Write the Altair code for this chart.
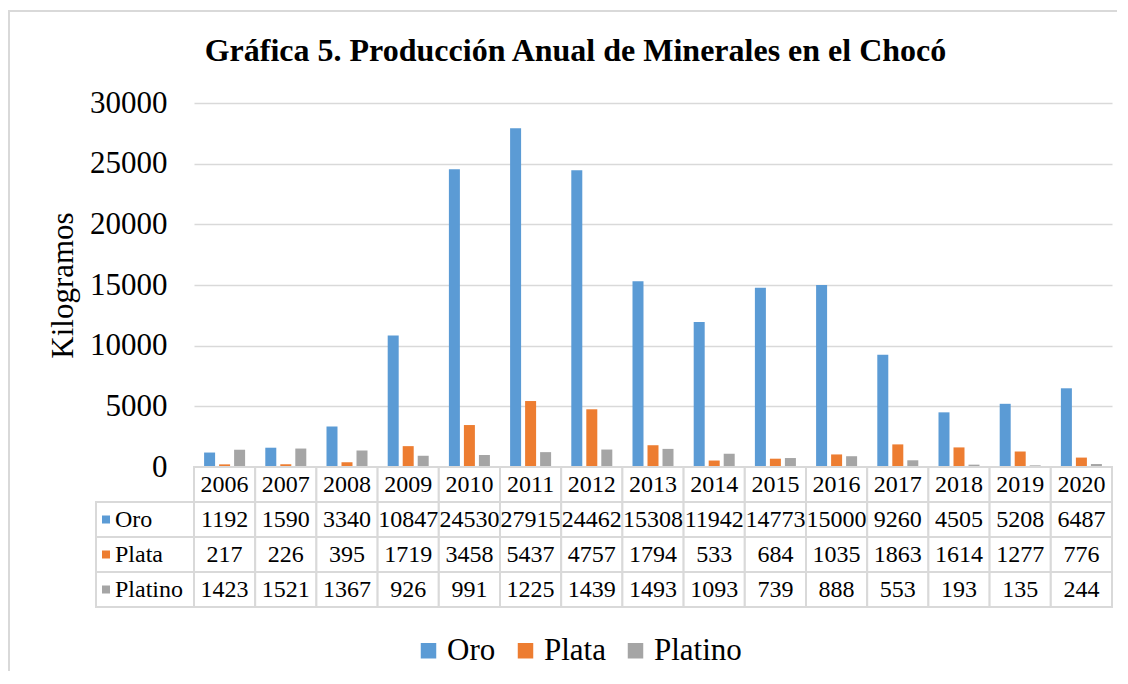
import altair as alt
import pandas as pd

years = [str(y) for y in range(2006, 2021)]
series = ["Oro", "Plata", "Platino"]
oro = [1192, 1590, 3340, 10847, 24530, 27915, 24462, 15308, 11942, 14773, 15000, 9260, 4505, 5208, 6487]
plata = [217, 226, 395, 1719, 3458, 5437, 4757, 1794, 533, 684, 1035, 1863, 1614, 1277, 776]
platino = [1423, 1521, 1367, 926, 991, 1225, 1439, 1493, 1093, 739, 888, 553, 193, 135, 244]
colors = ["#5B9BD5", "#ED7D31", "#A5A5A5"]
y_ticks = [0, 5000, 10000, 15000, 20000, 25000, 30000]

FONT = "Liberation Serif"
GRID = "#d9d9d9"

values = {"Oro": oro, "Plata": plata, "Platino": platino}
bars_df = pd.DataFrame(
    [{"year": y, "series": s, "value": values[s][i]} for s in series for i, y in enumerate(years)]
)

row_order = ["Año"] + series
table_rows = []
for i, y in enumerate(years):
    table_rows.append({"year": y, "row": "Año", "txt": y})
    for s in series:
        table_rows.append({"year": y, "row": s, "txt": str(values[s][i])})
table_df = pd.DataFrame(table_rows)
head_df = pd.DataFrame({"row": series, "series": series})
frame_top_df = pd.DataFrame({"edge": ["top"]})
frame_left_df = pd.DataFrame({"edge": ["left"]})

color_scale = alt.Scale(domain=series, range=colors)

bars = alt.Chart(bars_df).mark_bar().encode(
    x=alt.X("year:N", sort=years, axis=None,
            scale=alt.Scale(paddingInner=0.33, paddingOuter=0.165)),
    xOffset=alt.XOffset("series:N", sort=series,
                        scale=alt.Scale(paddingInner=0.267, paddingOuter=0)),
    y=alt.Y("value:Q", scale=alt.Scale(domain=[0, 30000], nice=False),
            axis=alt.Axis(values=y_ticks, format="d", title="Kilogramos", titleFontSize=31,
                          titleFont=FONT, titleFontWeight="normal", titleColor="black",
                          labelFont=FONT, labelFontSize=31, labelColor="black",
                          labelPadding=27, titlePadding=10, domain=False, ticks=False,
                          gridColor=GRID, gridWidth=1.5)),
    color=alt.Color("series:N", scale=color_scale, sort=series,
                    legend=alt.Legend(title=None, orient="none", direction="horizontal",
                                      legendX=219, legendY=532, symbolType="square",
                                      symbolSize=240, symbolStrokeWidth=0,
                                      labelFont=FONT, labelFontSize=31, labelColor="black",
                                      labelOffset=3, columnPadding=14)),
)

# chart-area frame (top and left edges only, as in the reference)
frame_top = alt.Chart(frame_top_df).mark_rect(fill=GRID, strokeWidth=0).encode(
    x=alt.value(-186), x2=alt.value(923), y=alt.value(-93), y2=alt.value(-91))
frame_left = alt.Chart(frame_left_df).mark_rect(fill=GRID, strokeWidth=0).encode(
    x=alt.value(-186), x2=alt.value(-184), y=alt.value(-93), y2=alt.value(568))

top = alt.layer(bars, frame_top, frame_left).properties(width=918, height=364)

tx = alt.X("year:N", sort=years, axis=None, scale=alt.Scale(paddingInner=0, paddingOuter=0))
ty = alt.Y("row:N", sort=row_order, axis=None, scale=alt.Scale(domain=row_order, paddingInner=0, paddingOuter=0))

cells = alt.Chart(table_df).mark_rect(fill="white", stroke=GRID, strokeWidth=2).encode(x=tx, y=ty)
cell_txt = alt.Chart(table_df).mark_text(font=FONT, fontSize=24, color="black").encode(
    x=tx, y=ty, text="txt:N")

head_cells = alt.Chart(head_df).mark_rect(fill="white", stroke=GRID, strokeWidth=2).encode(
    x=alt.value(-98), x2=alt.value(0), y=ty)
head_sym = alt.Chart(head_df).mark_point(shape="square", filled=True, size=64, opacity=1).encode(
    x=alt.value(-88), y=ty, color=alt.Color("series:N", scale=color_scale, legend=None))
head_txt = alt.Chart(head_df).mark_text(font=FONT, fontSize=24, color="black", align="left").encode(
    x=alt.value(-79), y=ty, text="row:N")

table = alt.layer(cells, cell_txt, head_cells, head_sym, head_txt).properties(width=918, height=140)

chart = alt.vconcat(top, table, spacing=0, bounds="flush").properties(
    title=alt.Title("Gráfica 5. Producción Anual de Minerales en el Chocó", font=FONT,
                    fontSize=32, fontWeight="bold", color="black", anchor="middle",
                    offset=-58, dx=13),
    padding={"left": 0, "top": 2, "right": 0, "bottom": 0},
).configure_view(stroke=None)

chart.save("out.html", embed_options={"renderer": "svg", "actions": False})
